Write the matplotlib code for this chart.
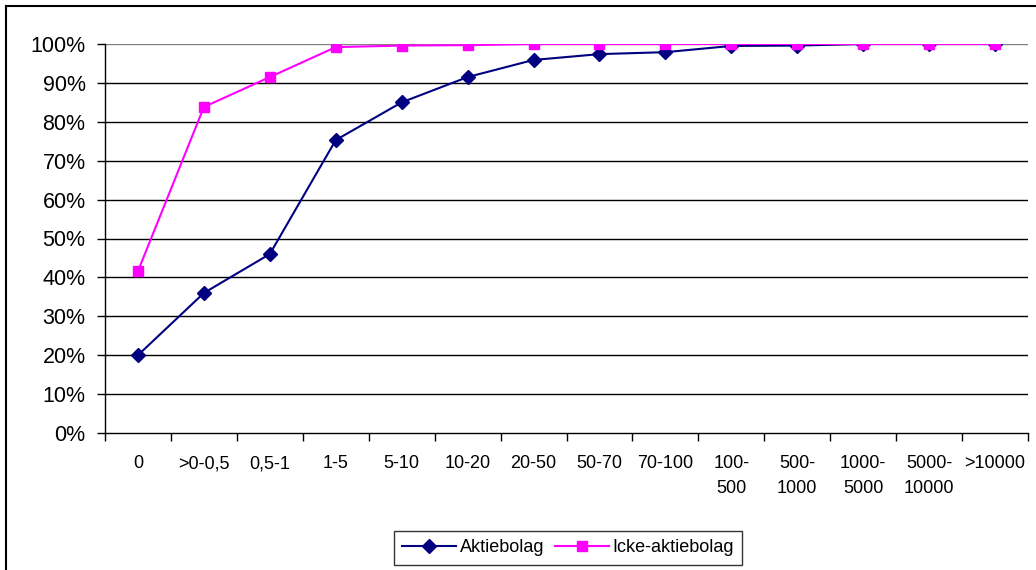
import numpy as np
import matplotlib.pyplot as plt
from matplotlib.lines import Line2D

plt.rcParams['font.family'] = ['Liberation Sans', 'DejaVu Sans']

# kategorier (storleksklasser)
kategorier = ['0', '>0-0,5', '0,5-1', '1-5', '5-10', '10-20', '20-50', '50-70',
              '70-100', '100-\n500', '500-\n1000', '1000-\n5000', '5000-\n10000', '>10000']

# kumulativ andel, procent
aktiebolag = [20.0, 36.0, 46.0, 75.3, 85.0, 91.5, 95.9, 97.4, 97.9, 99.5, 99.6, 100.0, 100.0, 100.0]
icke_ab = [41.6, 83.8, 91.5, 99.2, 99.6, 99.7, 100.0, 100.0, 100.0, 100.0, 100.0, 100.0, 100.0, 100.0]

fig = plt.figure(figsize=(10.36, 5.70), dpi=100)
ax = fig.add_axes([105 / 1036, 1 - 433 / 570, (1028 - 105) / 1036, (433 - 44) / 570])

x = np.arange(len(kategorier))
ax.plot(x, aktiebolag, color='#000080', marker='D', markersize=7, lw=1.5,
        label='Aktiebolag', zorder=3)
ax.plot(x, icke_ab, color='#FF00FF', marker='s', markersize=7.5, lw=1.5,
        label='Icke-aktiebolag', zorder=4)

ax.set_xlim(-0.5, len(kategorier) - 0.5)
ax.set_ylim(0, 100)

# rutnät
yt = np.arange(0, 101, 10)
ax.set_yticks(yt)
ax.set_yticklabels(['{}%'.format(v) for v in yt], fontsize=15.5)
for v in yt[1:]:
    ax.axhline(v, color='#000000' if v < 100 else '#808080', lw=1, zorder=1)

ax.set_xticks(x)
ax.set_xticklabels(kategorier, fontsize=13, linespacing=1.6, va='top')
ax.tick_params(axis='x', which='major', length=0, pad=16)
ax.set_xticks(np.arange(-0.5, len(kategorier)), minor=True)
ax.tick_params(axis='x', which='minor', length=6, width=1, direction='out')
ax.tick_params(axis='y', length=6, width=1, direction='out', pad=8)

for s in ['top', 'right']:
    ax.spines[s].set_visible(False)
ax.spines['left'].set_linewidth(1)
ax.spines['bottom'].set_linewidth(1)

leg = fig.legend(loc='center', bbox_to_anchor=(568 / 1036, 1 - 548 / 570), ncol=2,
                 fontsize=13, frameon=True, fancybox=False, edgecolor='black',
                 handlelength=3.0, columnspacing=0.6, handletextpad=0.2,
                 borderpad=0.45)
leg.get_frame().set_linewidth(1)

# ram runt diagrammet
fig.add_artist(Line2D([6 / 1036, 1], [1 - 6 / 570, 1 - 6 / 570], color='black', lw=1.5,
                      transform=fig.transFigure))
fig.add_artist(Line2D([6 / 1036, 6 / 1036], [0, 1 - 6 / 570], color='black', lw=1.5,
                      transform=fig.transFigure))

fig.savefig('out.png', dpi=100)
